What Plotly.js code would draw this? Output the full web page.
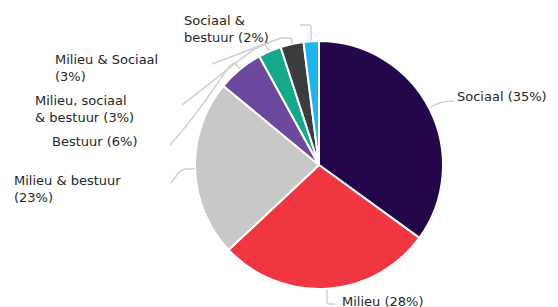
<!DOCTYPE html>
<html>
<head>
<meta charset="utf-8">
<script src="https://cdn.plot.ly/plotly-3.0.1.min.js"></script>
<style>html,body{margin:0;padding:0;background:#fff;}#chart{width:558px;height:307px;}</style>
</head>
<body>
<div id="chart"></div>
<script>
// ---- data ----
const categories = ["Sociaal", "Milieu", "Milieu & bestuur", "Bestuur", "Milieu, sociaal & bestuur", "Milieu & Sociaal", "Sociaal & bestuur"];
const values = [35, 28, 23, 6, 3, 3, 2];
const labelLines = [["Sociaal"], ["Milieu"], ["Milieu & bestuur", ""], ["Bestuur"], ["Milieu, sociaal", "& bestuur"], ["Milieu & Sociaal", ""], ["Sociaal &", "bestuur"]];
const colors = ["#24074b", "#ef3641", "#c8c8c9", "#6c499e", "#13a98a", "#3c3c3e", "#1db7f0"];

// ---- layout helpers (pixel positions of labels / leader lines) ----
const W = 558, H = 307;
const px = x => x / W;
const py = y => 1 - y / H;
const labelPos = [[455, 97], [340, 301], [12, 189], [50, 141], [33, 109], [53, 68], [182, 29]];
const leaders = [
  "M431,107 Q440,101 454,101",
  "M327,290 L327,303 Q327,304 329,304 L335,304",
  "M195,169 L186,169 Q181,169 177,175 L171,183",
  "M240,69 L235,63 C226,64 214,96 170,145",
  "M270,51 L265,45 C258,44 240,60 182,105",
  "M292,44 L292,40 Q292,38 289,38 L281,38 L212,64",
  "M311,41 L311,27 Q311,25 309,25 L300,25"
];
function toPaper(d) {
  return d.replace(/(-?\d+(?:\.\d+)?),(-?\d+(?:\.\d+)?)/g, (m, a, b) => px(+a).toFixed(5) + "," + py(+b).toFixed(5));
}

const total = values.reduce((a, b) => a + b, 0);
const annotations = categories.map((c, i) => {
  const pct = Math.round(values[i] / total * 100) + "%";
  const lines = labelLines[i].slice();
  const last = lines.length - 1;
  lines[last] = (lines[last] ? lines[last] + " " : "") + "(" + pct + ")";
  return {
    text: lines.join("<br>"),
    x: px(labelPos[i][0]), y: py(labelPos[i][1]),
    xref: "paper", yref: "paper",
    xanchor: "left", yanchor: "middle", align: "left",
    showarrow: false,
    font: {family: "DejaVu Sans", size: 13, color: "#262626"}
  };
});
const shapes = leaders.map(d => ({
  type: "path", xref: "paper", yref: "paper", path: toPaper(d),
  line: {color: "#cfcfcf", width: 1.5}
}));

const trace = {
  type: "pie",
  labels: categories,
  values: values,
  sort: false,
  direction: "clockwise",
  rotation: 0,
  textinfo: "none",
  hoverinfo: "label+percent",
  marker: {colors: colors, line: {color: "#ffffff", width: 2}},
  domain: {x: [195 / W, 443 / W], y: [py(289), py(41)]},
  showlegend: false
};

Plotly.newPlot("chart", [trace], {
  width: W, height: H,
  margin: {l: 0, r: 0, t: 0, b: 0},
  paper_bgcolor: "#ffffff",
  showlegend: false,
  annotations: annotations,
  shapes: shapes
}, {displayModeBar: false, staticPlot: true});
</script>
</body>
</html>
